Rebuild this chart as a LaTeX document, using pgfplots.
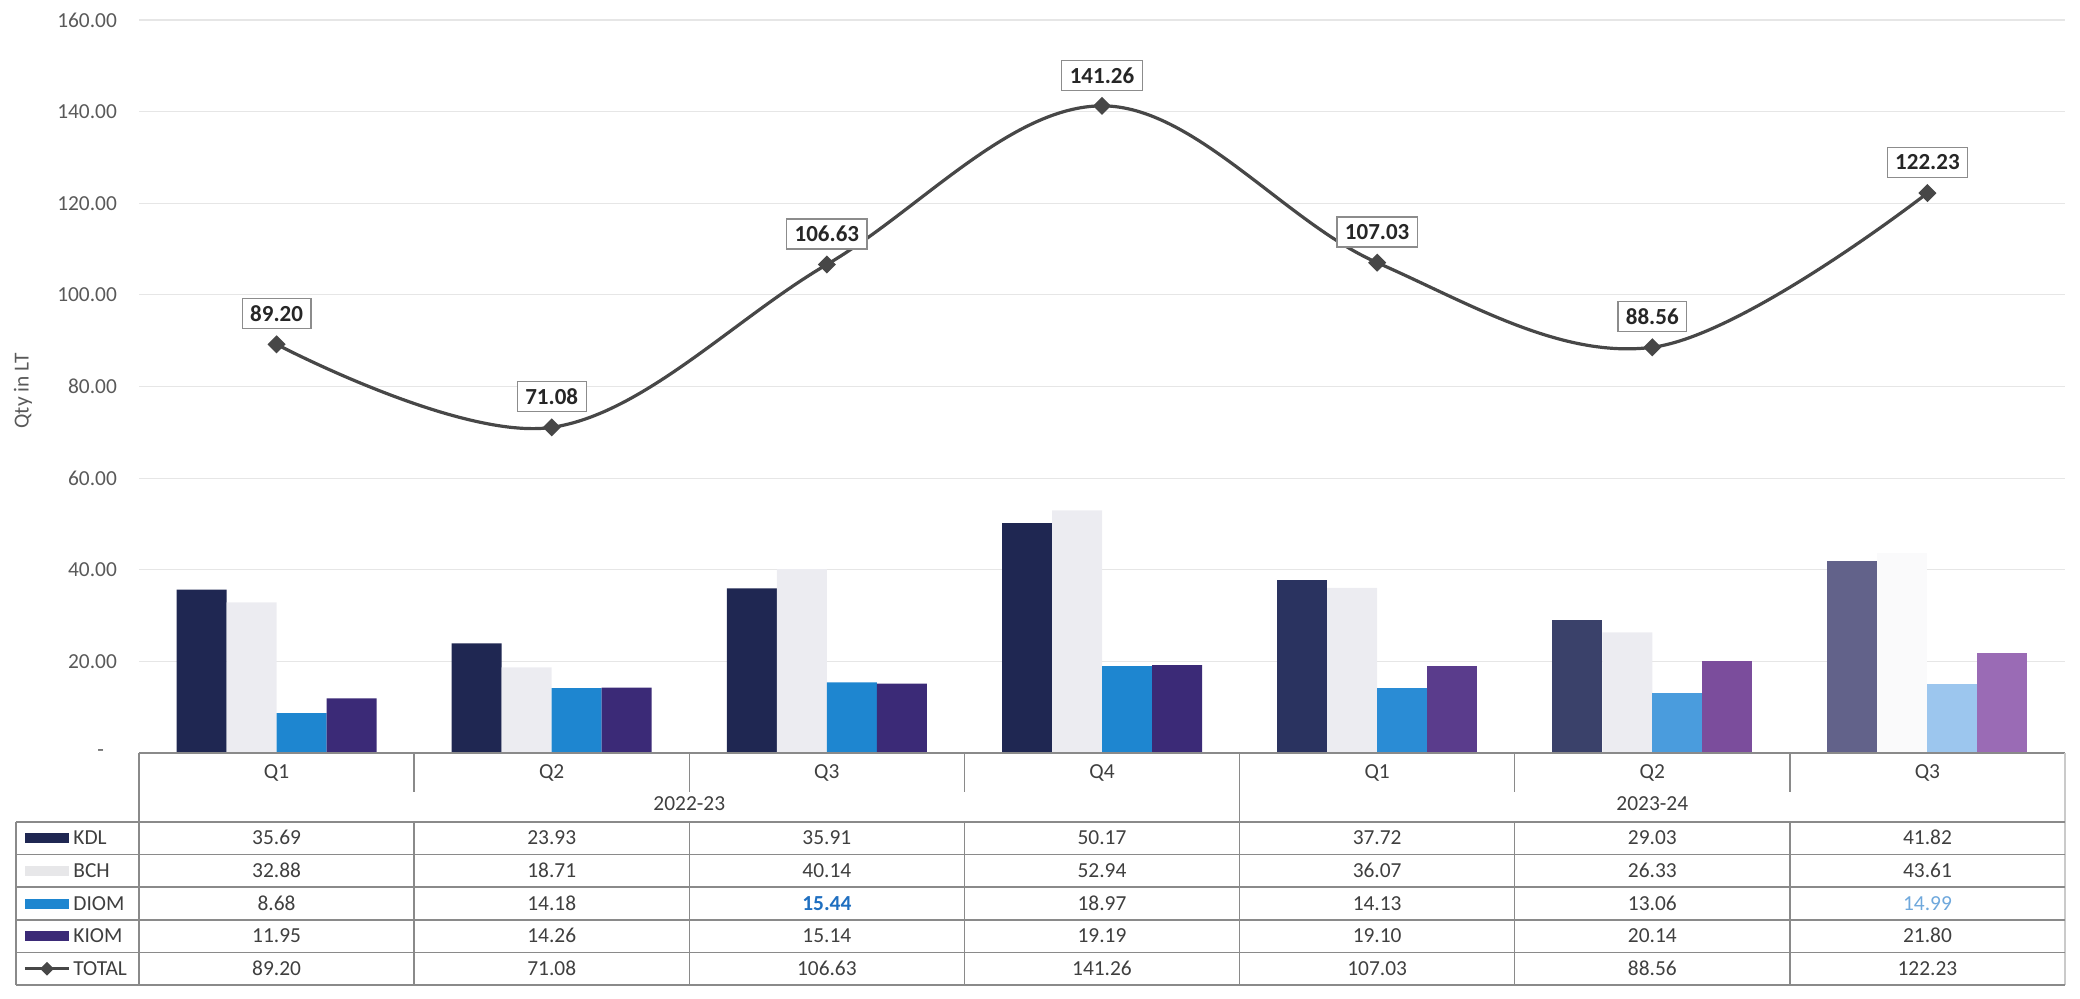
\documentclass[border=0pt]{standalone}
\usepackage{pgfplots}
\pgfplotsset{compat=1.18}
\usepackage{fontspec}
\setmainfont{Carlito}
\definecolor{kdlA}{HTML}{1F2752}
\definecolor{kdlB}{HTML}{2A3360}
\definecolor{kdlC}{HTML}{3A416A}
\definecolor{kdlD}{HTML}{62628A}
\definecolor{bch}{HTML}{ECECF1}
\definecolor{bchD}{HTML}{FAFAFB}
\definecolor{diomA}{HTML}{1E86D0}
\definecolor{diomB}{HTML}{2A8CD5}
\definecolor{diomC}{HTML}{4A9CDD}
\definecolor{diomD}{HTML}{9CC6EE}
\definecolor{kiomA}{HTML}{3B2A77}
\definecolor{kiomB}{HTML}{5A3C8C}
\definecolor{kiomC}{HTML}{7B4D9C}
\definecolor{kiomD}{HTML}{9A6BB5}
\definecolor{linec}{HTML}{474747}
\definecolor{gridc}{HTML}{E6E6E6}
\definecolor{tabline}{HTML}{8A8A8A}
\definecolor{tabtext}{HTML}{3F3F3F}
\definecolor{ticktext}{HTML}{595959}
\definecolor{boxc}{HTML}{8C8C8C}
\definecolor{bluebold}{HTML}{1F6FC0}
\definecolor{bluelight}{HTML}{6FA8DC}
\newcommand\tabfont{\fontsize{10.7}{12}\selectfont}
\tikzset{cell/.style={font=\tabfont, text=tabtext, anchor=base, inner sep=0pt}}
\begin{document}
\begin{tikzpicture}
\useasboundingbox (-69.5pt,-122.5pt) rectangle (970.5pt,376.5pt);
\begin{axis}[
  at={(0pt,0pt)}, anchor=south west,
  scale only axis, width=963pt, height=366.5pt,
  xmin=-0.5, xmax=6.5, ymin=0, ymax=160,
  axis line style={draw=none},
  major tick length=0pt,
  xtick={0,...,6}, xticklabels={Q1,Q2,Q3,Q4,Q1,Q2,Q3},
  xticklabel style={font=\tabfont, text=tabtext, anchor=base, yshift=-12.8pt},
  ytick={0,20,...,160},
  yticklabels={{-\hspace*{6.5pt}},20.00,40.00,60.00,80.00,100.00,120.00,140.00,160.00},
  yticklabel style={font=\tabfont, text=ticktext, anchor=east, xshift=-7.5pt},
  ymajorgrids, grid style={draw=gridc, line width=0.6pt},
]
% KDL
\addplot[ybar, bar width=25pt, bar shift=-37.5pt, fill=kdlA, draw=none] coordinates {(0,35.69) (1,23.93) (2,35.91) (3,50.17)};
\addplot[ybar, bar width=25pt, bar shift=-37.5pt, fill=kdlB, draw=none] coordinates {(4,37.72)};
\addplot[ybar, bar width=25pt, bar shift=-37.5pt, fill=kdlC, draw=none] coordinates {(5,29.03)};
\addplot[ybar, bar width=25pt, bar shift=-37.5pt, fill=kdlD, draw=none] coordinates {(6,41.82)};
% BCH
\addplot[ybar, bar width=25pt, bar shift=-12.5pt, fill=bch, draw=none] coordinates {(0,32.88) (1,18.71) (2,40.14) (3,52.94) (4,36.07) (5,26.33)};
\addplot[ybar, bar width=25pt, bar shift=-12.5pt, fill=bchD, draw=none] coordinates {(6,43.61)};
% DIOM
\addplot[ybar, bar width=25pt, bar shift=12.5pt, fill=diomA, draw=none] coordinates {(0,8.68) (1,14.18) (2,15.44) (3,18.97)};
\addplot[ybar, bar width=25pt, bar shift=12.5pt, fill=diomB, draw=none] coordinates {(4,14.13)};
\addplot[ybar, bar width=25pt, bar shift=12.5pt, fill=diomC, draw=none] coordinates {(5,13.06)};
\addplot[ybar, bar width=25pt, bar shift=12.5pt, fill=diomD, draw=none] coordinates {(6,14.99)};
% KIOM
\addplot[ybar, bar width=25pt, bar shift=37.5pt, fill=kiomA, draw=none] coordinates {(0,11.95) (1,14.26) (2,15.14) (3,19.19)};
\addplot[ybar, bar width=25pt, bar shift=37.5pt, fill=kiomB, draw=none] coordinates {(4,19.10)};
\addplot[ybar, bar width=25pt, bar shift=37.5pt, fill=kiomC, draw=none] coordinates {(5,20.14)};
\addplot[ybar, bar width=25pt, bar shift=37.5pt, fill=kiomD, draw=none] coordinates {(6,21.80)};
% TOTAL
\addplot[smooth, tension=0.6, color=linec, line width=1.6pt,
  mark=square*, mark size=2.4pt, mark options={rotate=45, fill=linec, solid},
  nodes near coords, point meta=explicit symbolic,
  nodes near coords style={draw=boxc, fill=white, line width=0.6pt,
    font=\bfseries\fontsize{11.5}{13}\selectfont, text=black!85,
    inner xsep=4pt, inner ysep=0pt, minimum height=15pt, anchor=south, yshift=7.5pt}]
  coordinates {(0,89.20)[89.20] (1,71.08)[71.08] (2,106.63)[106.63] (3,141.26)[141.26] (4,107.03)[107.03] (5,88.56)[88.56] (6,122.23)[122.23]};
\end{axis}
% table grid
\draw[tabline, line width=0.75pt] (0pt,0pt) -- (963pt,0pt);
\foreach \k in {1,2,3,5,6} \draw[tabline, line width=0.75pt] ({\k*137.5714pt},0pt) -- ({\k*137.5714pt},-19.5pt);
\draw[tabline, line width=0.75pt] (0pt,0pt) -- (0pt,-116pt);
\draw[tabline, line width=0.75pt] (550.2857pt,0pt) -- (550.2857pt,-34.5pt);
\draw[tabline!45, line width=0.75pt] (963pt,0pt) -- (963pt,-116pt);
\foreach \y in {-34.5,-50.8,-67.1,-83.4,-99.7,-116} \draw[tabline, line width=0.75pt] (-61.5pt,\y pt) -- (963pt,\y pt);
\draw[tabline, line width=0.75pt] (-61.5pt,-34.5pt) -- (-61.5pt,-116pt);
\foreach \k in {1,...,6} \draw[tabline, line width=0.75pt] ({\k*137.5714pt},-34.5pt) -- ({\k*137.5714pt},-116pt);
% year labels
\node[cell] at (275.14pt,-28.8pt) {2022-23};
\node[cell] at (756.64pt,-28.8pt) {2023-24};
% values
\foreach \v [count=\k from 0] in {35.69,23.93,35.91,50.17,37.72,29.03,41.82}
  \node[cell] at ({(\k+0.5)*137.5714pt},-45.95pt) {\v};
\foreach \v [count=\k from 0] in {32.88,18.71,40.14,52.94,36.07,26.33,43.61}
  \node[cell] at ({(\k+0.5)*137.5714pt},-62.25pt) {\v};
\foreach \v [count=\k from 0] in {8.68,14.18}
  \node[cell] at ({(\k+0.5)*137.5714pt},-78.55pt) {\v};
\node[cell, text=bluebold, font=\tabfont\bfseries] at ({2.5*137.5714pt},-78.55pt) {15.44};
\foreach \v [count=\k from 3] in {18.97,14.13,13.06}
  \node[cell] at ({(\k+0.5)*137.5714pt},-78.55pt) {\v};
\node[cell, text=bluelight] at ({6.5*137.5714pt},-78.55pt) {14.99};
\foreach \v [count=\k from 0] in {11.95,14.26,15.14,19.19,19.10,20.14,21.80}
  \node[cell] at ({(\k+0.5)*137.5714pt},-94.85pt) {\v};
\foreach \v [count=\k from 0] in {89.20,71.08,106.63,141.26,107.03,88.56,122.23}
  \node[cell] at ({(\k+0.5)*137.5714pt},-111.15pt) {\v};
% legend column
\fill[kdlA] (-57pt,-45.15pt) rectangle (-35pt,-40.15pt);
\fill[bch!80!gray!60] (-57pt,-61.45pt) rectangle (-35pt,-56.45pt);
\fill[diomA] (-57pt,-77.75pt) rectangle (-35pt,-72.75pt);
\fill[kiomA] (-57pt,-94.05pt) rectangle (-35pt,-89.05pt);
\draw[linec, line width=1.6pt] (-57pt,-107.85pt) -- (-35pt,-107.85pt);
\fill[linec] (-46pt,-104.45pt) -- (-42.6pt,-107.85pt) -- (-46pt,-111.25pt) -- (-49.4pt,-107.85pt) -- cycle;
\node[cell, anchor=base west] at (-33pt,-45.95pt) {KDL};
\node[cell, anchor=base west] at (-33pt,-62.25pt) {BCH};
\node[cell, anchor=base west] at (-33pt,-78.55pt) {DIOM};
\node[cell, anchor=base west] at (-33pt,-94.85pt) {KIOM};
\node[cell, anchor=base west] at (-33pt,-111.15pt) {TOTAL};
% y label
\node[rotate=90, font=\fontsize{10.7}{12}\selectfont, text=ticktext] at (-58pt,181pt) {Qty in LT};
\end{tikzpicture}
\end{document}
